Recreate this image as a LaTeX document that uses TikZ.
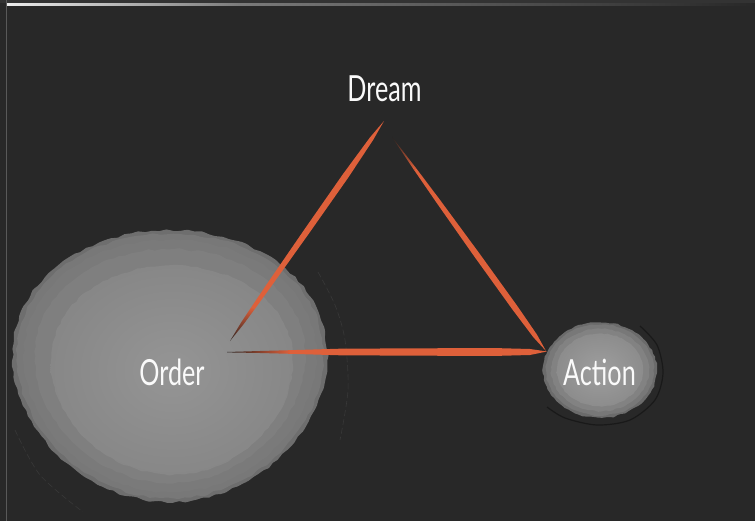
\documentclass[tikz,border=0pt]{standalone}
\usepackage{fontspec}
\newfontfamily\lblfont{Lato}[FakeStretch=0.7]
\definecolor{bg}{HTML}{282828}
\definecolor{org}{HTML}{DE603A}
\definecolor{darktip}{HTML}{2A2220}
\definecolor{oedge}{HTML}{6E6E6E}
\definecolor{oband}{HTML}{7A7A7A}
\definecolor{oinner}{HTML}{878787}
\definecolor{ocenter}{HTML}{959595}
\newcommand\ordershape{plot[smooth cycle, samples=150, domain=0:357.6] ({(157+1.3*rand)*cos(\x)*(1-0.08*sin(\x))}, {(136+1.3*rand)*sin(\x)})}
\newcommand\actionshape{plot[smooth cycle, samples=90, domain=0:356] ({(57+0.8*rand)*cos(\x)}, {(48+0.8*rand)*sin(\x)})}
\begin{document}
\begin{tikzpicture}[x=1pt,y=-1pt,
  lbl/.style={font=\lblfont\fontsize{36}{40}\selectfont, text=white!96!gray, inner sep=0pt},
  stroke/.style={fill=org}]
\pgfmathsetseed{7}
% background and frame
\fill[bg] (0,0) rectangle (755,521);
\useasboundingbox (0,0) rectangle (755,521);
\fill[black!80!white] (0,0) rectangle (755,3);
\shade[left color=white!93!black, right color=black!52!white] (6,3.5) rectangle (240,5.5);
\shade[left color=black!52!white, right color=bg] (240,3.5) rectangle (755,5.5);
\draw[black!65!white, line width=1.2pt] (6.6,0) -- (6.6,521);
% Order blob
\draw[black!78!white, line width=0.6pt, dash pattern=on 6pt off 3pt] plot[smooth] coordinates {(318,272) (335,305) (345,340) (348,390) (340,440)};
\draw[black!78!white, line width=0.6pt, dash pattern=on 6pt off 3pt] plot[smooth] coordinates {(15,430) (40,475) (83,512)};
\begin{scope}[shift={(170,366)}]
  \fill[oedge] \ordershape;
  \begin{scope}[scale=0.975]\fill[oband!80!oedge] \ordershape;\end{scope}
  \begin{scope}[scale=0.93]\fill[oband] \ordershape;\end{scope}
  \begin{scope}[scale=0.86]\fill[oband!60!oinner] \ordershape;\end{scope}
\end{scope}
\begin{scope}[shift={(172,370)}]
  \begin{scope}[scale=0.77]\shade[inner color=ocenter, outer color=oinner] \ordershape;\end{scope}
\end{scope}
% Action blob
\draw[black!90!white, line width=1.2pt] plot[smooth] coordinates {(640,326) (657,345) (663,373) (655,400) (630,420) (597,425) (565,418) (547,407)};
\begin{scope}[shift={(600,370)}]
  \fill[black!58!white] \actionshape;
  \begin{scope}[scale=0.95]\fill[black!53!white] \actionshape;\end{scope}
  \begin{scope}[scale=0.86]\fill[black!49!white] \actionshape;\end{scope}
  \begin{scope}[scale=0.76]\shade[inner color=black!38!white, outer color=black!45!white] \actionshape;\end{scope}
\end{scope}
% corner coordinates of the triangle
\coordinate (apex) at (384,121);
\coordinate (ltip) at (230,341);
\coordinate (rtop) at (392,137);
\coordinate (corner) at (546,351);
\coordinate (btip) at (227,352);
\coordinate (bend) at (547,351.5);
% left stroke
\fill[stroke] (apex) -- (373.3,139.7) -- (348.1,177.8) -- (309.5,232.7) -- (270.5,287.4) -- (254.7,309.1)
  -- (251.5,306.9) -- (266.5,284.6) -- (304.5,229.3) -- (342.9,174.2) -- (370.0,137.4) -- cycle;
\shade[top color=org, bottom color=darktip] (254.7,309.1) -- (243.5,324.3) -- (ltip) -- (241.1,322.5) -- (251.5,306.9) -- cycle;
% right stroke
\shade[top color=darktip, bottom color=org] (rtop) -- (416.2,168.3) -- (414.0,169.9) -- cycle;
\fill[stroke] (416.2,168.3) -- (440.0,199.9) -- (479.1,253.0) -- (517.6,306.4) -- (537.0,334.7) -- (corner)
  -- (533.4,337.3) -- (512.8,310.0) -- (474.3,256.5) -- (436.4,202.5) -- (414.0,169.9) -- cycle;
% bottom stroke
\shade[left color=darktip, right color=org] (btip) -- (260,351) -- (290,350.2) -- (290,353.8) -- (260,353) -- (227,352.4) -- cycle;
\fill[stroke] (290,350.2) -- (340,348.7) -- (400,348.4) -- (450,348.2) -- (500,348.2) -- (530,349) -- (bend)
  -- (530,355) -- (500,355.8) -- (450,355.8) -- (400,355.6) -- (340,355.3) -- (290,353.8) -- cycle;
% labels
\node[lbl] (dream) at (384.5,89) {Dream};
\node[lbl] (order) at (172,372) {Order};
\node[lbl] (action) at (599.5,372) {Action};
\end{tikzpicture}
\end{document}
